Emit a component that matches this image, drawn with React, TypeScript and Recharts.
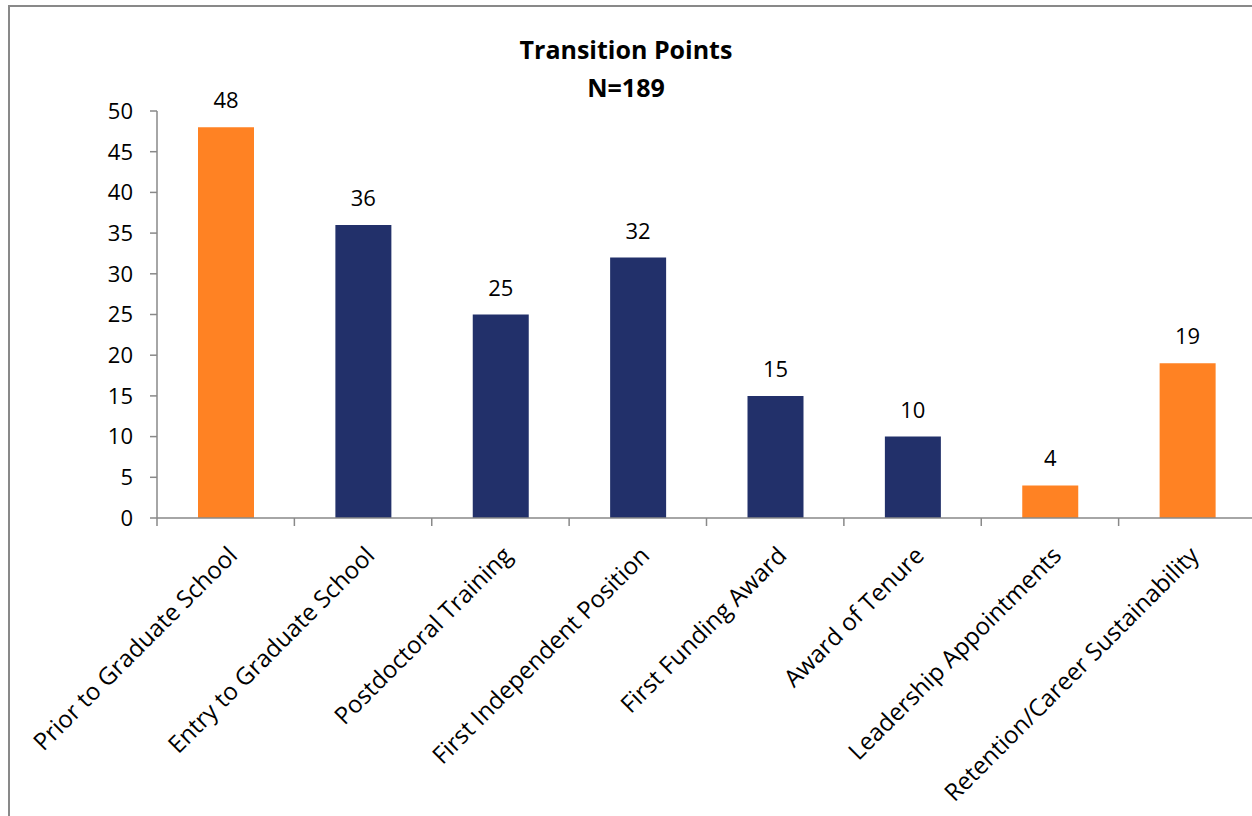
import { BarChart, Bar, XAxis, YAxis, Cell, LabelList } from "recharts";

const categories = [
  "Prior to Graduate School",
  "Entry to Graduate School",
  "Postdoctoral Training",
  "First Independent Position",
  "First Funding Award",
  "Award of Tenure",
  "Leadership Appointments",
  "Retention/Career Sustainability",
];
const counts = [48, 36, 25, 32, 15, 10, 4, 19];
const highlighted = [true, false, false, false, false, false, true, true];
const yTicks = [0, 5, 10, 15, 20, 25, 30, 35, 40, 45, 50];

const ORANGE = "#FF8223";
const NAVY = "#22306A";
const AXIS = "#898989";
const FONT = "'Open Sans', sans-serif";

const CHART_W = 1300;
const CHART_H = 816;
const MARGIN = { top: 111, right: 44, left: 97, bottom: 38 };
const Y_AXIS_W = 60;
const BAND = (CHART_W - MARGIN.left - MARGIN.right - Y_AXIS_W) / categories.length;

const data = categories.map((name, i) => ({ name, count: counts[i], hi: highlighted[i] }));

function CategoryTick(props: { x?: number; y?: number; payload?: { value: string } }) {
  const { x = 0, y = 0, payload } = props;
  const left = x - BAND / 2;
  const ax = x + 13;
  const ay = y + 31;
  return (
    <g>
      <line x1={left} y1={y - 8} x2={left} y2={y} stroke={AXIS} strokeWidth={1.5} />
      <text
        x={ax}
        y={ay}
        textAnchor="end"
        fontSize={24}
        fontFamily={FONT}
        fill="#000"
        transform={`rotate(-45, ${ax}, ${ay})`}
      >
        {payload?.value}
      </text>
    </g>
  );
}

export default function App() {
  return (
    <div
      style={{
        position: "fixed",
        left: 0,
        top: 0,
        width: 1252,
        height: 816,
        overflow: "hidden",
        background: "#fff",
      }}
    >
      <div
        style={{
          position: "absolute",
          left: 8,
          top: 5,
          width: 1400,
          height: 1000,
          border: `2px solid ${AXIS}`,
        }}
      />
      <div
        style={{
          position: "absolute",
          left: 426,
          width: 400,
          top: 30,
          textAlign: "center",
          fontFamily: FONT,
          fontWeight: 700,
          fontSize: 25,
          lineHeight: "38px",
          color: "#000",
        }}
      >
        <div>Transition Points</div>
        <div>N=189</div>
      </div>
      <div style={{ position: "absolute", left: 0, top: 0 }}>
        <BarChart width={CHART_W} height={CHART_H} data={data} margin={MARGIN}>
          <XAxis
            dataKey="name"
            interval={0}
            height={260}
            axisLine={{ stroke: AXIS, strokeWidth: 1.5 }}
            tickLine={false}
            tick={<CategoryTick />}
          />
          <YAxis
            domain={[0, 50]}
            ticks={yTicks}
            interval={0}
            width={Y_AXIS_W}
            axisLine={{ stroke: AXIS, strokeWidth: 1.5 }}
            tickLine={{ stroke: AXIS, strokeWidth: 1.5 }}
            tickSize={7}
            tickMargin={17}
            tick={{ fontSize: 22, fontFamily: FONT, fill: "#000" }}
          />
          <Bar dataKey="count" barSize={56} isAnimationActive={false}>
            {data.map((d) => (
              <Cell key={d.name} fill={d.hi ? ORANGE : NAVY} />
            ))}
            <LabelList
              dataKey="count"
              position="top"
              offset={19}
              style={{ fontSize: 22, fontFamily: FONT, fill: "#000" }}
            />
          </Bar>
        </BarChart>
      </div>
    </div>
  );
}
